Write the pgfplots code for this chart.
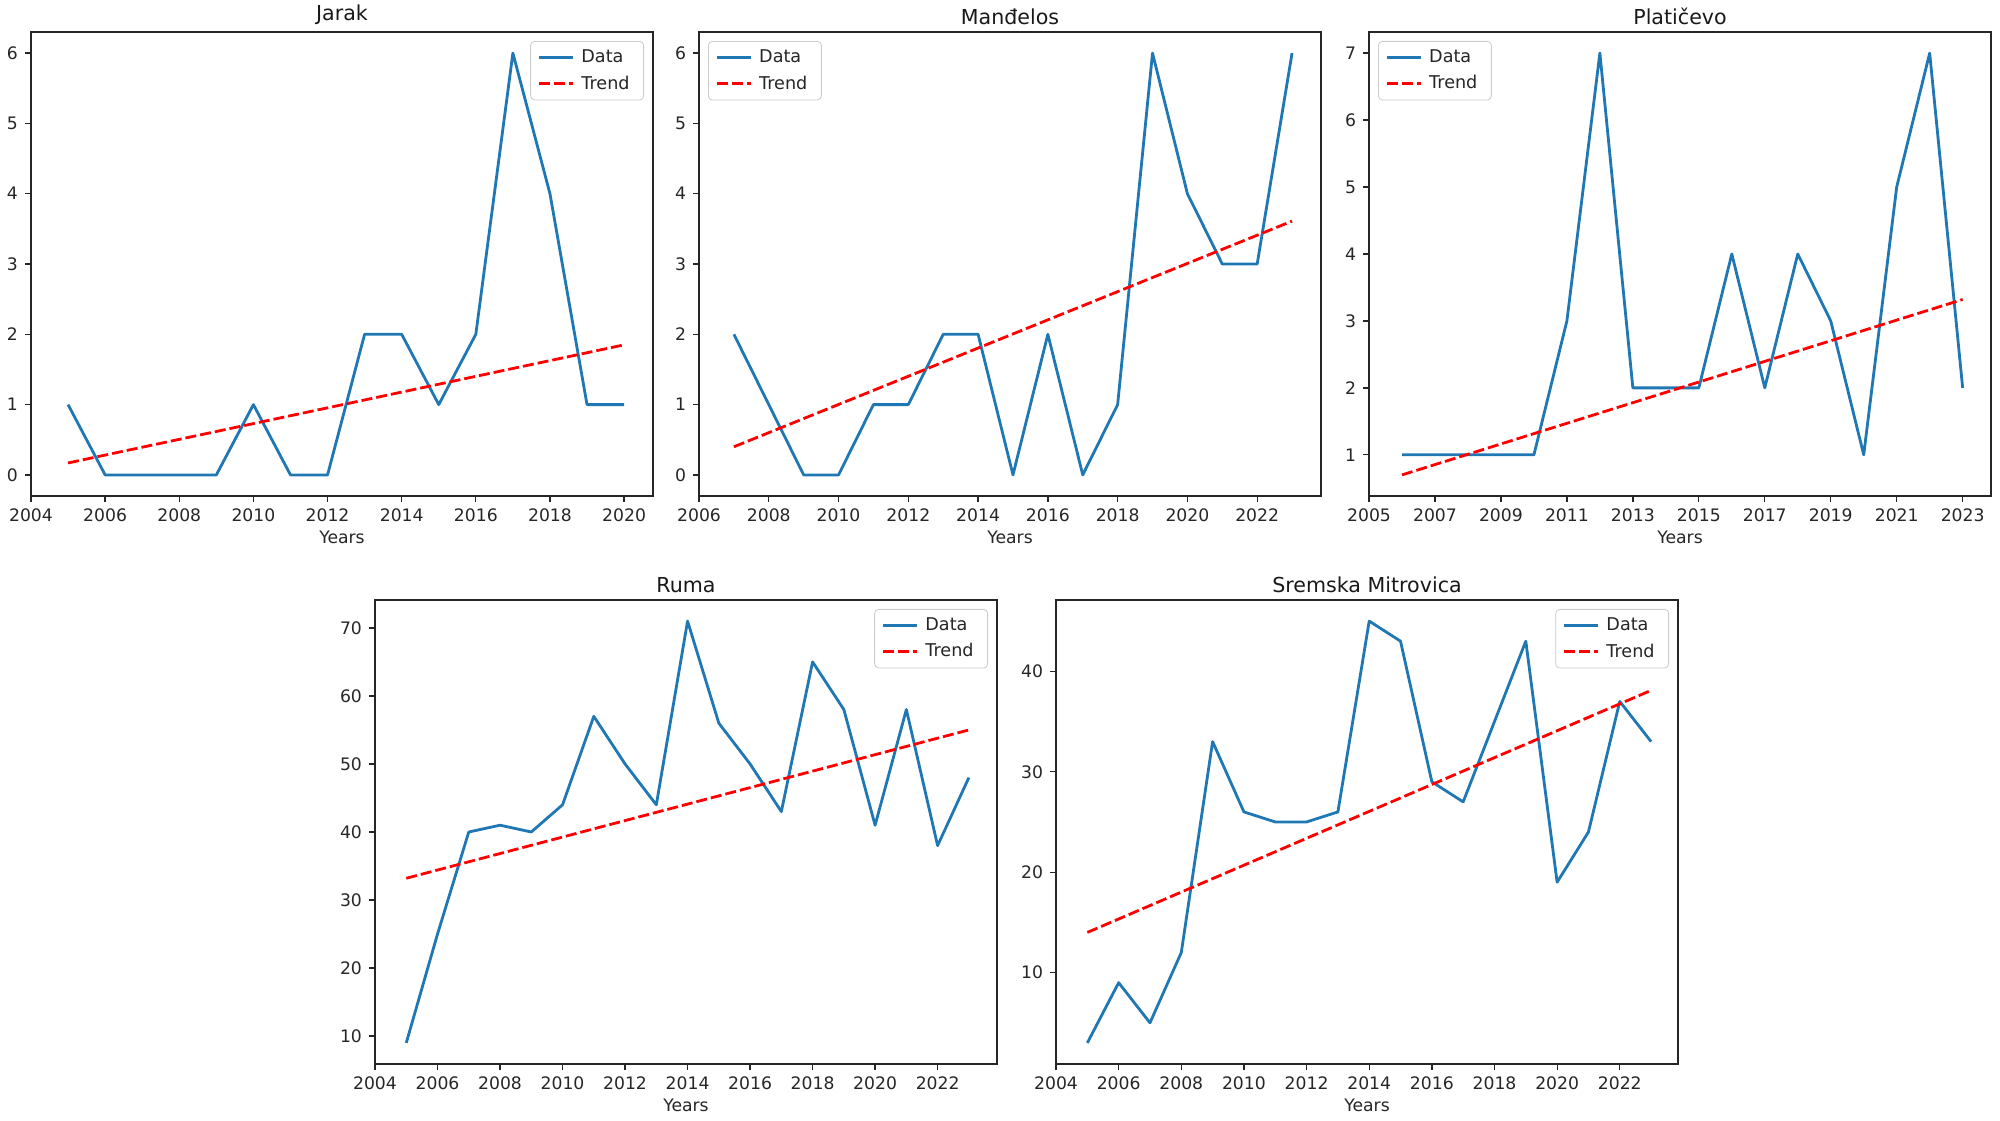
\documentclass[border=0pt]{standalone}
\usepackage{fontspec}
\setmainfont{DejaVu Sans}
\usepackage{pgfplots}
\pgfplotsset{compat=1.18}
\definecolor{mplblue}{RGB}{31,119,180}
\definecolor{mplred}{RGB}{255,0,0}
\pgfplotsset{
  panel/.style={
    scale only axis, width=311pt, height=232pt,
    anchor=south west,
    axis line style={black!85, line width=0.65pt},
    tick pos=left, tick align=outside,
    major tick length=3pt,
    every tick/.style={black!85, line width=0.65pt},
    /pgf/number format/assume math mode=true,
    tick label style={font=\fontsize{8.6}{10}\selectfont, text=black!85},
    xticklabel style={/pgf/number format/1000 sep={}},
    label style={font=\fontsize{8.6}{10}\selectfont, text=black!85},
    xlabel style={yshift=2.5pt},
    title style={font=\fontsize{10.3}{12}\selectfont, text=black!90, yshift=-5.8pt},
    xlabel={Years},
    legend cell align=left,
    legend style={font=\fontsize{8.8}{10}\selectfont, draw=black!20, rounded corners=2pt,
      fill=white, fill opacity=0.8, text opacity=1, text=black!85,
      inner xsep=3.5pt, inner ysep=2pt, row sep=1.2pt,
      nodes={inner xsep=3.5pt}},
    legend image code/.code={\draw[#1] (0pt,0pt) -- (17pt,0pt);},
  },
  legUR/.style={legend style={at={(1,1)}, anchor=north east, xshift=-4.5pt, yshift=-4.5pt}},
  legUL/.style={legend style={at={(0,1)}, anchor=north west, xshift=4.5pt, yshift=-4.5pt}},
  dataline/.style={mplblue, line width=1.4pt, line join=round},
  trendline/.style={mplred, line width=1.4pt, dash pattern=on 5.5pt off 2pt},
}
\begin{document}
\begin{tikzpicture}
\path[use as bounding box] (0,0) rectangle (1000pt,560pt);

% Jarak
\begin{axis}[panel, legUR, at={(15.5pt,312pt)}, title={Jarak},
  xmin=2004, xmax=2020.78, ymin=-0.3, ymax=6.3,
  xtick={2004,2006,...,2020}, ytick={0,1,...,6}]
\addplot[dataline] coordinates {(2005,1)(2006,0)(2007,0)(2008,0)(2009,0)(2010,1)(2011,0)(2012,0)(2013,2)(2014,2)(2015,1)(2016,2)(2017,6)(2018,4)(2019,1)(2020,1)};
\addlegendentry{Data}
\addplot[trendline] coordinates {(2005,0.17)(2020,1.85)};
\addlegendentry{Trend}
\end{axis}

% Mandelos
\begin{axis}[panel, legUL, at={(349.5pt,312pt)}, title={Manđelos},
  xmin=2006, xmax=2023.83, ymin=-0.3, ymax=6.3,
  xtick={2006,2008,...,2022}, ytick={0,1,...,6}]
\addplot[dataline] coordinates {(2007,2)(2008,1)(2009,0)(2010,0)(2011,1)(2012,1)(2013,2)(2014,2)(2015,0)(2016,2)(2017,0)(2018,1)(2019,6)(2020,4)(2021,3)(2022,3)(2023,6)};
\addlegendentry{Data}
\addplot[trendline] coordinates {(2007,0.40)(2023,3.61)};
\addlegendentry{Trend}
\end{axis}

% Platicevo
\begin{axis}[panel, legUL, at={(684.5pt,312pt)}, title={Platičevo},
  xmin=2005, xmax=2023.86, ymin=0.385, ymax=7.315,
  xtick={2005,2007,...,2023}, ytick={1,2,...,7}]
\addplot[dataline] coordinates {(2006,1)(2007,1)(2008,1)(2009,1)(2010,1)(2011,3)(2012,7)(2013,2)(2014,2)(2015,2)(2016,4)(2017,2)(2018,4)(2019,3)(2020,1)(2021,5)(2022,7)(2023,2)};
\addlegendentry{Data}
\addplot[trendline] coordinates {(2006,0.70)(2023,3.32)};
\addlegendentry{Trend}
\end{axis}

% Ruma
\begin{axis}[panel, legUR, at={(187.5pt,28pt)}, title={Ruma},
  xmin=2004, xmax=2023.9, ymin=5.9, ymax=74.1,
  xtick={2004,2006,...,2022}, ytick={10,20,...,70}]
\addplot[dataline] coordinates {(2005,9)(2006,25)(2007,40)(2008,41)(2009,40)(2010,44)(2011,57)(2012,50)(2013,44)(2014,71)(2015,56)(2016,50)(2017,43)(2018,65)(2019,58)(2020,41)(2021,58)(2022,38)(2023,48)};
\addlegendentry{Data}
\addplot[trendline] coordinates {(2005,33.2)(2023,55.0)};
\addlegendentry{Trend}
\end{axis}

% Sremska Mitrovica
\begin{axis}[panel, legUR, at={(528pt,28pt)}, title={Sremska Mitrovica},
  xmin=2004, xmax=2023.86, ymin=0.9, ymax=47.1,
  xtick={2004,2006,...,2022}, ytick={10,20,30,40}]
\addplot[dataline] coordinates {(2005,3)(2006,9)(2007,5)(2008,12)(2009,33)(2010,26)(2011,25)(2012,25)(2013,26)(2014,45)(2015,43)(2016,29)(2017,27)(2018,35)(2019,43)(2020,19)(2021,24)(2022,37)(2023,33)};
\addlegendentry{Data}
\addplot[trendline] coordinates {(2005,14.0)(2023,38.1)};
\addlegendentry{Trend}
\end{axis}
\end{tikzpicture}
\end{document}
